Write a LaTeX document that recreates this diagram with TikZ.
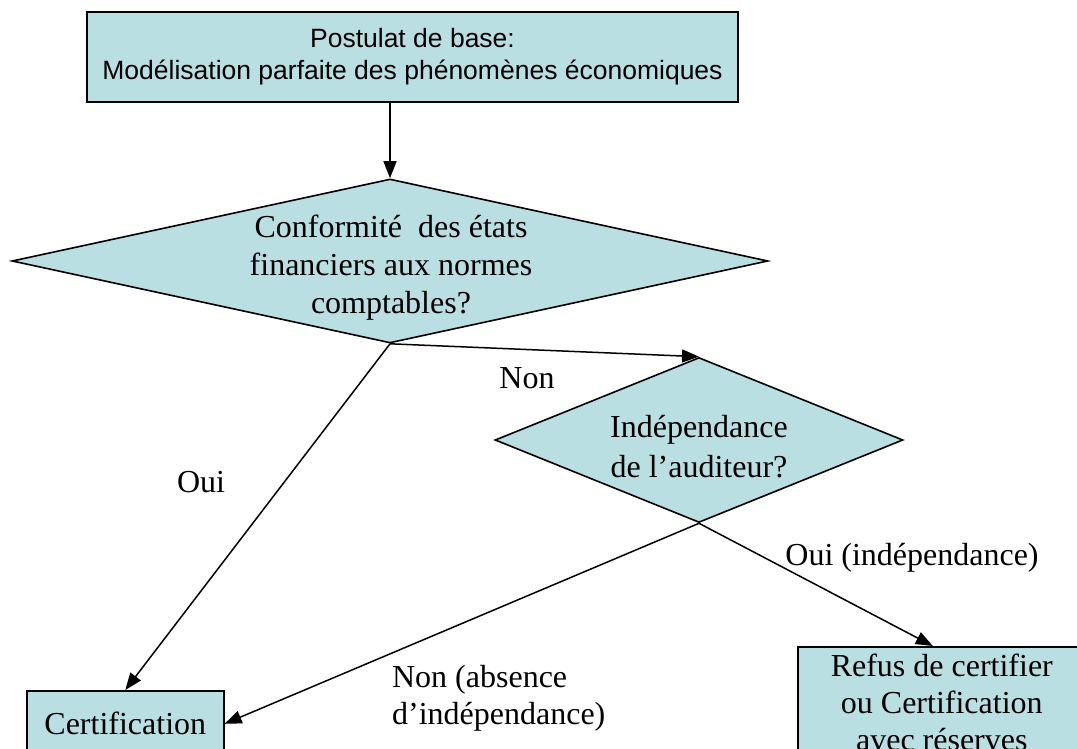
\documentclass[tikz,border=0pt]{standalone}
\usepackage{fontspec}
\setmainfont{Liberation Serif}
\newfontfamily\arialfont{Liberation Sans}
\usepackage{tikz}
\usetikzlibrary{shapes,arrows,positioning,calc,arrows.meta}
\definecolor{flowfill}{RGB}{186,223,226}

\begin{document}
\begin{tikzpicture}[x=1pt, y=-1pt, line width=1.6pt,
    font=\fontsize{32}{37}\selectfont,
    audit box/.style={draw, rectangle, fill=flowfill, align=center, inner sep=3pt},
    audit decision/.style={draw, diamond, fill=flowfill, inner sep=0pt},
    audit text/.style={align=center},
    audit arrow/.style={-{Triangle[length=17pt,width=13pt]}, line width=1.5pt}]
    \clip (0,0) rectangle (1077,749);
    \node[audit box, minimum width=651pt, minimum height=90pt, font=\arialfont\fontsize{26.5}{32}\selectfont] (base) at (412.5,57) {Postulat de base:\\Modélisation parfaite des phénomènes économiques};
    \node[audit decision, minimum width=756pt, minimum height=164pt] (conf) at (390,261) {};
    \node[audit text, font=\fontsize{32}{38}\selectfont] (conftext) at (391,268) {Conformité\ \ des états\\financiers aux normes\\comptables?};
    \node[audit decision, minimum width=408pt, minimum height=165pt] (indep) at (699,440) {};
    \node[audit text, font=\fontsize{32}{40}\selectfont] (indeptext) at (699,447) {Indépendance\\de l’auditeur?};
    \node[audit box, anchor=north west, minimum width=197pt, minimum height=66pt] (cert) at (26,690) {Certification};
    \node[audit box, anchor=north west, minimum width=288pt, minimum height=112pt] (refus) at (797,646) {Refus de certifier\\ou Certification\\avec réserves};

    \draw[audit arrow] (conf.north |- base.south) -- (conf.north);
    \draw[audit arrow] (conf.south) -- (indep.north);
    \draw[audit arrow] (conf.south) -- (cert.north);
    \draw[audit arrow] (indep.south) -- (cert.east);
    \draw[audit arrow] (indep.south) -- ([xshift=-9pt]refus.north);

    \node (non) at (527,378) {Non};
    \node (oui) at (201,482) {Oui};
    \node (ouiindep) at (912,558) {Oui (indépendance)};
    \node[align=left, anchor=west] (nonindep) at (388,698) {Non (absence\\d’indépendance)};
\end{tikzpicture}
\end{document}
